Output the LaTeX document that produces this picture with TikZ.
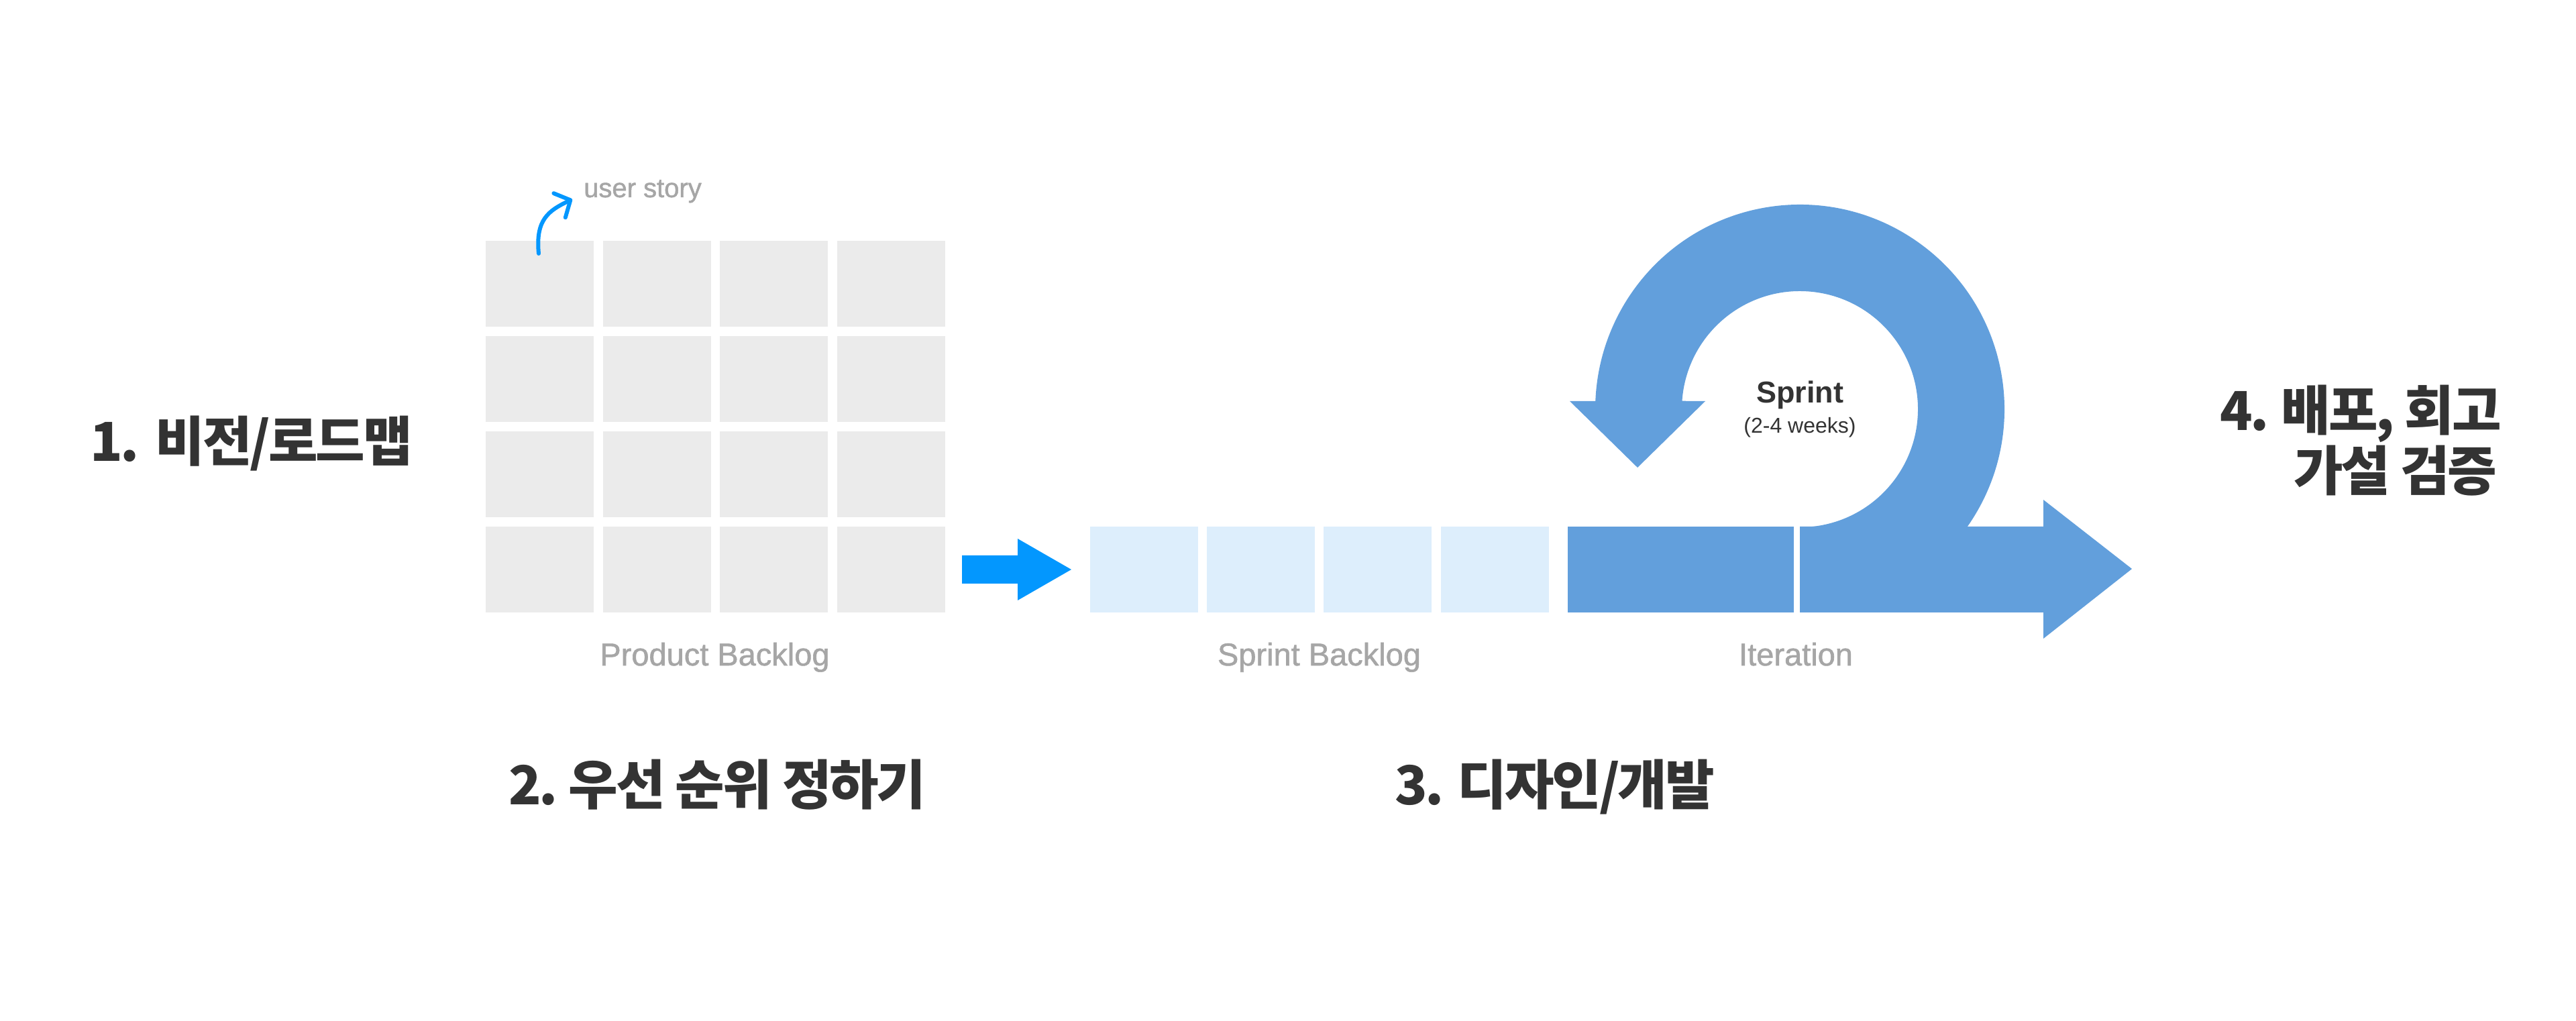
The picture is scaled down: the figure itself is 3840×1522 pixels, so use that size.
\documentclass[tikz,border=0pt]{standalone}
\usepackage{fontspec}
\usetikzlibrary{arrows.meta,calc}
\newfontfamily\krfont{Noto Sans CJK KR}[LetterSpace=-4]
\newfontfamily\latfont{Liberation Sans}
\newfontfamily\latmed{Liberation Sans}[FakeBold=1.2]
\definecolor{gridgray}{HTML}{EBEBEB}
\definecolor{lightblue}{HTML}{DDEEFC}
\definecolor{loopblue}{HTML}{629FDC}
\definecolor{brightblue}{HTML}{0397FE}
\definecolor{labelgray}{HTML}{A6A6A6}
\definecolor{darktext}{HTML}{333333}
\tikzset{
  cell/.style={fill=gridgray, draw=none, minimum width=161pt, minimum height=128pt, inner sep=0pt, anchor=north west},
  sbox/.style={cell, fill=lightblue},
  itbox/.style={cell, fill=loopblue},
  head/.style={inner sep=0pt, text=darktext, font=\krfont\bfseries\fontsize{80}{90}\selectfont},
  glabel/.style={inner sep=0pt, anchor=base, text=labelgray, font=\latmed\fontsize{47}{56}\selectfont},
}
\begin{document}
\begin{tikzpicture}[x=1pt,y=1pt]
\useasboundingbox[fill=white] (0,0) rectangle (3840,1522);
% product backlog grid
\foreach \r/\yy in {1/1163,2/1021,3/879,4/737}
  \foreach \c/\xx in {1/724,2/898.5,3/1073,4/1247.5}
    \node[cell] (pb-\r-\c) at (\xx,\yy) {};
% sprint backlog
\foreach \c/\xx in {1/1625,2/1799,3/1973,4/2148}
  \node[sbox] (sb-\c) at (\xx,737) {};
% iteration first box
\node[itbox, minimum width=337pt] (it1) at (2337,737) {};
% blue arrow between backlogs
\fill[brightblue] (1434,694) -- (1517,694) -- (1517,719) -- (1597,673) -- (1517,627) -- (1517,652) -- (1434,652) -- cycle;
% iteration big arrow
\fill[loopblue] (2683,609) -- (3046,609) -- (3046,570) -- (3178,674) -- (3046,777) -- (3046,737) -- (2683,737) -- cycle;
% sprint loop
\coordinate (C) at (2683,912);
\fill[loopblue] ($(C)+(177.7:305)$) -- (2340,924) -- (2441,825) -- (2542,924) -- ($(C)+(176:176)$)
  arc[start angle=176, end angle=-90, radius=176] -- ($(C)+(-35:305)$)
  arc[start angle=-35, end angle=177.7, radius=305] -- cycle;
% sprint text
\node[inner sep=0pt, anchor=base, text=darktext, font=\latfont\bfseries\fontsize{45}{54}\selectfont] (sprint) at (2683,921) {Sprint};
\node[inner sep=0pt, anchor=base, text=darktext, font=\latfont\fontsize{32}{40}\selectfont] (weeks) at (2683,876) {(2-4 weeks)};
% gray labels
\node[glabel] (lpb) at (1065.5,530) {Product Backlog};
\node[glabel] (lsb) at (1966.5,530) {Sprint Backlog};
\node[glabel] (lit) at (2677,530) {Iteration};
% user story
\node[inner sep=0pt, anchor=base west, text=labelgray, font=\latmed\fontsize{40}{48}\selectfont] (us) at (870,1228) {user story};
\coordinate (usstart) at (803,1144);
\coordinate (usend) at (853,1225);
\draw[brightblue, line width=6pt, line cap=round, -{Straight Barb[length=18pt, width=40pt, round]}] (usstart) .. controls (798,1195) and (818,1208) .. (usend);
% headings
\node[head, anchor=base west] (h1) at (134,834) {1.\hspace{24pt}비전/로드맵};
\node[head, anchor=base west] (h2) at (758,322) {2.\hspace{16pt}우선 순위 정하기};
\node[head, anchor=base west] (h3) at (2079,322) {3.\hspace{20pt}디자인/개발};
\node[head, anchor=base west] (h4) at (3309,880) {4.\hspace{18pt}배포, 회고};
\node[head, anchor=base west] (h4b) at (3419,790) {가설 검증};
\end{tikzpicture}
\end{document}
